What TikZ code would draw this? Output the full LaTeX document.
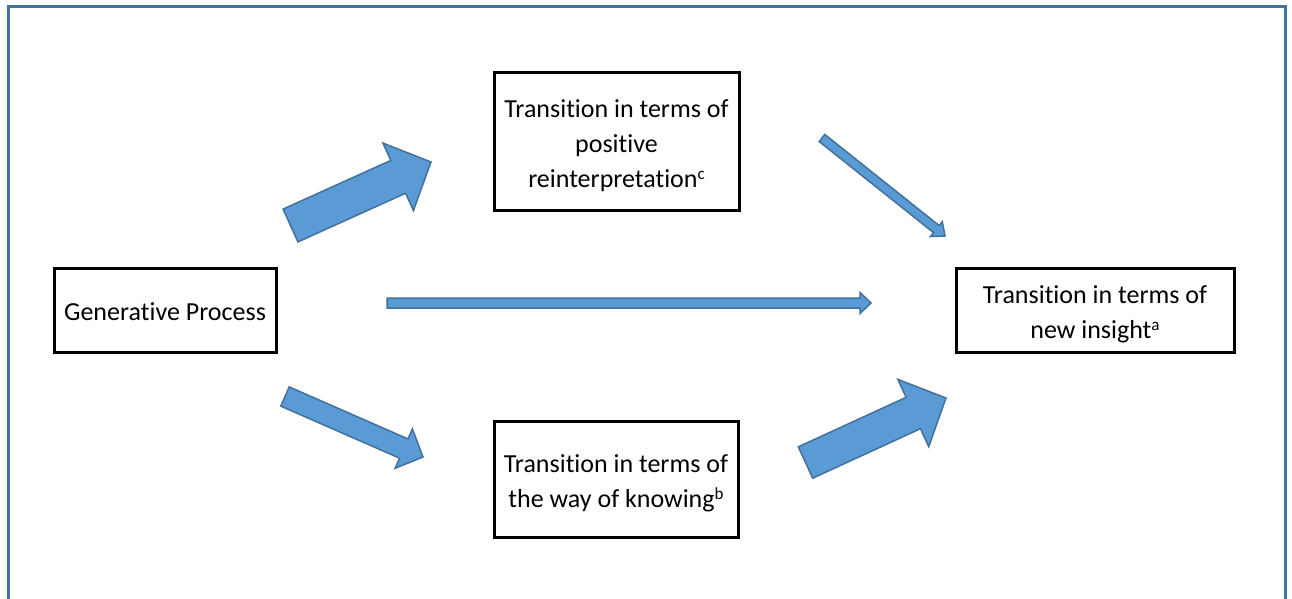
\documentclass[tikz,border=0pt]{standalone}
\usepackage{fontspec}
\setmainfont{Carlito}[Ligatures={NoCommon,NoContextual,NoRequired},
  RawFeature={-liga;-clig;-dlig}]
\definecolor{framecol}{RGB}{66,113,163}
\definecolor{arrowfill}{RGB}{91,155,213}
\definecolor{arrowline}{RGB}{65,113,156}
\tikzset{
  box/.style={draw=black, line width=3pt, fill=white, inner sep=0pt,
    font=\fontsize{26}{35}\selectfont},
  blockarrow/.style={fill=arrowfill, draw=arrowline, line width=1.5pt,
    line join=miter},
}
% keeps "t" and "i" as separate letters
\newcommand\nolig{\kern0pt }
% centred lines of box text, each line on a full strut, set a little low
\newcommand\boxlines[1]{\raisebox{-3.5pt}[\height][\depth]{\begin{tabular}{@{}c@{}}#1\end{tabular}}}
% footnote letter raised after a word
\newcommand\notemark[1]{\raisebox{0.27em}{\fontsize{17}{17}\selectfont #1}}
% Block arrow from coordinate #1 (tail centre) to #2 (tip):
% #3 shaft width, #4 head width, #5 head length (all in pt)
\newcommand\blockarrowshape[5]{%
  \pgfpointdiff{\pgfpointanchor{#1}{center}}{\pgfpointanchor{#2}{center}}%
  \pgfgetlastxy\baDx\baDy
  \pgfmathsetmacro\baAng{atan2(\baDy,\baDx)}%
  \pgfmathsetmacro\baLen{veclen(\baDx,\baDy)}%
  \begin{scope}[shift={(#1)}, rotate=\baAng, x=1pt, y=1pt]
    \draw[blockarrow] (0,{-#3/2}) -- ({\baLen-#5},{-#3/2})
      -- ({\baLen-#5},{-#4/2}) -- (\baLen,0) -- ({\baLen-#5},{#4/2})
      -- ({\baLen-#5},{#3/2}) -- (0,{#3/2}) -- cycle;
  \end{scope}}
\begin{document}
\begin{tikzpicture}[x=1pt,y=-1pt]
\useasboundingbox (0,0) rectangle (1292,599);
\clip (0,0) rectangle (1292,599);
\fill[white] (0,0) rectangle (1292,599);
% outer frame, open at the bottom edge
\draw[framecol, line width=3pt] (8,7) rectangle (1285,650);

% boxes
\node[box, minimum width=222pt, minimum height=84pt] (gen) at (165,310)
  {\boxlines{Generat\nolig ive Process}};
\node[box, minimum width=245pt, minimum height=138pt] (pos) at (616.5,141.5)
  {\boxlines{Transit\nolig ion in terms of\\posit\nolig ive\\ reinterpretat\nolig ion\notemark{c}}};
\node[box, minimum width=244pt, minimum height=116pt] (know) at (616,479)
  {\boxlines{Transit\nolig ion in terms of\\the way of knowing\notemark{b}}};
\node[box, minimum width=278pt, minimum height=84pt] (ins) at (1095,310)
  {\boxlines{Transit\nolig ion in terms of\\new insight\notemark{a}}};

% arrow end points
\coordinate (t1) at (290.5,225.5);  \coordinate (h1) at (431,162);
\coordinate (t2) at (285,396.5);    \coordinate (h2) at (423,457);
\coordinate (t3) at (805.5,462.5);  \coordinate (h3) at (946,398);
\coordinate (t4) at (822,138);      \coordinate (h4) at (945,236);
\coordinate (t5) at (387,303);      \coordinate (h5) at (871,303);

\blockarrowshape{t1}{h1}{36}{74}{36}
\blockarrowshape{t2}{h2}{21}{43}{21}
\blockarrowshape{t3}{h3}{34.5}{74}{36}
\blockarrowshape{t4}{h4}{9}{19}{11}
\blockarrowshape{t5}{h5}{10}{21}{11}
\end{tikzpicture}
\end{document}
